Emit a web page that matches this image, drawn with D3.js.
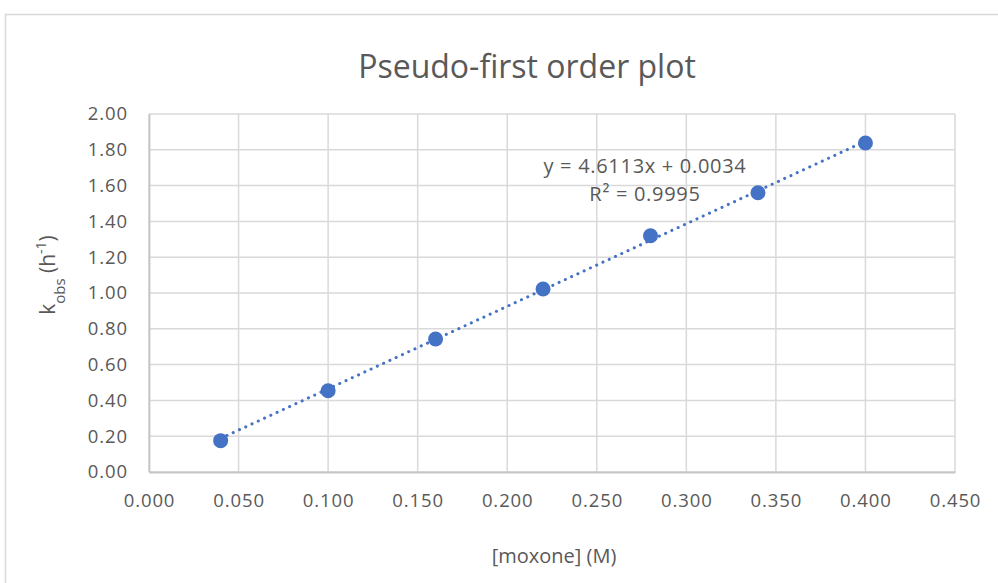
<!DOCTYPE html>
<html>
<head>
<meta charset="utf-8">
<script src="https://cdn.jsdelivr.net/npm/d3@7"></script>
<style>
  html, body { margin: 0; padding: 0; background: #ffffff; }
  svg { display: block; }
  text { font-family: "Open Sans", "Noto Sans", sans-serif; fill: #595959; }
</style>
</head>
<body>
<svg id="chart" width="998" height="583"></svg>
<script>
// Observed rate constants against oxidant concentration
const concentration = [0.04, 0.10, 0.16, 0.22, 0.28, 0.34, 0.40];
const kObs = [0.175, 0.454, 0.743, 1.022, 1.32, 1.56, 1.838];

// Linear least-squares fit reported on the chart
const fitSlope = 4.6113;
const fitIntercept = 0.0034;
const fitR2 = 0.9995;

const xTicks = [0, 0.05, 0.10, 0.15, 0.20, 0.25, 0.30, 0.35, 0.40, 0.45];
const yTicks = [0, 0.2, 0.4, 0.6, 0.8, 1.0, 1.2, 1.4, 1.6, 1.8, 2.0];

const svg = d3.select("#chart");

// outer chart frame
svg.append("rect")
  .attr("x", 5.5).attr("y", 14.5)
  .attr("width", 1000).attr("height", 600)
  .attr("fill", "#ffffff")
  .attr("stroke", "#d9d9d9").attr("stroke-width", 1.5);

const plot = { left: 149, right: 955, top: 114, bottom: 472 };

const x = d3.scaleLinear().domain([0, 0.45]).range([plot.left, plot.right]);
const y = d3.scaleLinear().domain([0, 2]).range([plot.bottom, plot.top]);

// gridlines
svg.append("g").selectAll("line.v").data(xTicks).join("line")
  .attr("x1", d => x(d)).attr("x2", d => x(d))
  .attr("y1", plot.top).attr("y2", plot.bottom)
  .attr("stroke", "#d9d9d9").attr("stroke-width", 1.5);

svg.append("g").selectAll("line.h").data(yTicks).join("line")
  .attr("x1", plot.left).attr("x2", plot.right)
  .attr("y1", d => y(d)).attr("y2", d => y(d))
  .attr("stroke", "#d9d9d9").attr("stroke-width", 1.5);

// axes (lines only; labels styled below)
const xAxis = d3.axisBottom(x).tickValues(xTicks).tickFormat(d3.format(".3f")).tickSize(0).tickPadding(22);
const yAxis = d3.axisLeft(y).tickValues(yTicks).tickFormat(d3.format(".2f")).tickSize(0).tickPadding(21);

const gx = svg.append("g").attr("transform", `translate(0,${plot.bottom})`).call(xAxis);
const gy = svg.append("g").attr("transform", `translate(${plot.left},0)`).call(yAxis);

[gx, gy].forEach(g => {
  g.select(".domain").attr("stroke", "#c6c6c6").attr("stroke-width", 1.8);
  g.selectAll("text")
    .attr("fill", "#595959")
    .style("font-family", '"Open Sans", sans-serif')
    .style("font-size", "18.5px")
    .style("letter-spacing", "0.9px");
});

// trendline
const fit = v => fitSlope * v + fitIntercept;
const xMin = d3.min(concentration), xMax = d3.max(concentration);
svg.append("line")
  .attr("x1", x(xMin)).attr("y1", y(fit(xMin)))
  .attr("x2", x(xMax)).attr("y2", y(fit(xMax)))
  .attr("stroke", "#4472c4").attr("stroke-width", 3)
  .attr("stroke-linecap", "round")
  .attr("stroke-dasharray", "0.1 6.8");

// data points
svg.append("g").selectAll("circle").data(concentration).join("circle")
  .attr("cx", d => x(d))
  .attr("cy", (d, i) => y(kObs[i]))
  .attr("r", 7.5)
  .attr("fill", "#4472c4");

// title
svg.append("text")
  .attr("x", 527).attr("y", 78)
  .attr("text-anchor", "middle")
  .style("font-size", "32px")
  .text("Pseudo-first order plot");

// fit equation
const eq = svg.append("g")
  .style("font-size", "20px")
  .style("letter-spacing", "0.7px")
  .attr("text-anchor", "middle");
eq.append("text").attr("x", 645).attr("y", 173)
  .text(`y = ${fitSlope}x + ${fitIntercept.toFixed(4)}`);
eq.append("text").attr("x", 645).attr("y", 201)
  .text(`R² = ${fitR2}`);

// axis titles
svg.append("text")
  .attr("x", 554).attr("y", 563)
  .attr("text-anchor", "middle")
  .style("font-size", "20px")
  .text("[moxone] (M)");

const yt = svg.append("text")
  .attr("transform", "translate(55,275) rotate(-90)")
  .attr("text-anchor", "middle")
  .style("font-size", "21px");
yt.append("tspan").text("k");
yt.append("tspan").attr("baseline-shift", "sub").style("font-size", "15px").text("obs");
yt.append("tspan").text(" (h");
yt.append("tspan").attr("baseline-shift", "super").style("font-size", "14px").text("-1");
yt.append("tspan").text(")");
</script>
</body>
</html>
